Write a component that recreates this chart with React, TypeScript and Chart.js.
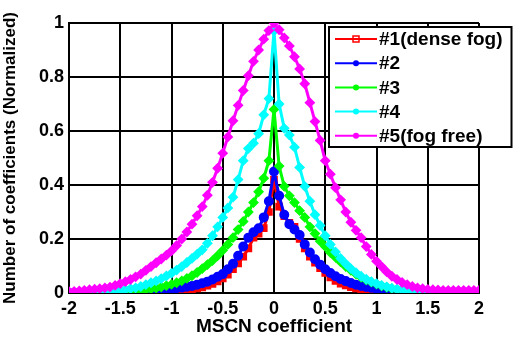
import React, { useEffect, useRef } from "react";
import { Chart, registerables } from "chart.js";
Chart.register(...registerables);

const xValues = [
  -2, -1.95, -1.9, -1.85, -1.8, -1.75, -1.7, -1.65, -1.6, -1.55,
  -1.5, -1.45, -1.4, -1.35, -1.3, -1.25, -1.2, -1.15, -1.1, -1.05,
  -1, -0.95, -0.9, -0.85, -0.8, -0.75, -0.7, -0.65, -0.6, -0.55,
  -0.5, -0.45, -0.4, -0.35, -0.3, -0.25, -0.2, -0.15, -0.1, -0.05,
  0,
  0.05, 0.1, 0.15, 0.2, 0.25, 0.3, 0.35, 0.4, 0.45, 0.5,
  0.55, 0.6, 0.65, 0.7, 0.75, 0.8, 0.85, 0.9, 0.95, 1,
  1.05, 1.1, 1.15, 1.2, 1.25, 1.3, 1.35, 1.4, 1.45, 1.5,
  1.55, 1.6, 1.65, 1.7, 1.75, 1.8, 1.85, 1.9, 1.95, 2,
];

// #1 (dense fog)
const series1 = [
  0, 0, 0, 0, 0, 0, 0, 0, 0.001, 0.001,
  0.001, 0.001, 0.001, 0.002, 0.002, 0.002, 0.003, 0.003, 0.004, 0.005,
  0.006, 0.007, 0.009, 0.011, 0.014, 0.017, 0.021, 0.027, 0.034, 0.043,
  0.054, 0.068, 0.088, 0.11, 0.135, 0.165, 0.205, 0.22, 0.24, 0.3,
  0.42,
  0.32, 0.285, 0.26, 0.245, 0.2, 0.165, 0.135, 0.112, 0.092, 0.074,
  0.058, 0.045, 0.035, 0.028, 0.022, 0.017, 0.013, 0.01, 0.008, 0.006,
  0.005, 0.004, 0.003, 0.002, 0.002, 0.001, 0.001, 0.001, 0.001, 0.001,
  0, 0, 0, 0, 0, 0, 0, 0, 0, 0,
];

// #2
const series2 = [
  0, 0, 0, 0, 0.001, 0.001, 0.001, 0.001, 0.002, 0.002,
  0.002, 0.003, 0.004, 0.005, 0.006, 0.007, 0.008, 0.01, 0.011, 0.013,
  0.015, 0.018, 0.02, 0.023, 0.026, 0.031, 0.036, 0.042, 0.05, 0.06,
  0.07, 0.088, 0.108, 0.138, 0.172, 0.205, 0.225, 0.24, 0.28, 0.34,
  0.45,
  0.36, 0.29, 0.255, 0.235, 0.215, 0.18, 0.15, 0.125, 0.105, 0.088,
  0.074, 0.062, 0.052, 0.044, 0.037, 0.031, 0.026, 0.022, 0.019, 0.016,
  0.013, 0.011, 0.009, 0.007, 0.006, 0.005, 0.004, 0.003, 0.003, 0.002,
  0.002, 0.002, 0.001, 0.001, 0.001, 0.001, 0.001, 0.001, 0.001, 0.001,
];

// #3
const series3 = [
  0, 0, 0.001, 0.001, 0.001, 0.001, 0.002, 0.002, 0.003, 0.003,
  0.004, 0.005, 0.006, 0.008, 0.01, 0.012, 0.015, 0.018, 0.022, 0.027,
  0.032, 0.038, 0.045, 0.054, 0.064, 0.076, 0.09, 0.105, 0.12, 0.138,
  0.158, 0.18, 0.205, 0.235, 0.265, 0.3, 0.335, 0.375, 0.425, 0.49,
  0.68,
  0.47, 0.395, 0.36, 0.335, 0.305, 0.28, 0.245, 0.22, 0.192, 0.172,
  0.15, 0.132, 0.115, 0.098, 0.084, 0.07, 0.058, 0.048, 0.04, 0.033,
  0.026, 0.021, 0.016, 0.012, 0.009, 0.007, 0.005, 0.004, 0.003, 0.003,
  0.002, 0.002, 0.002, 0.001, 0.001, 0.001, 0.001, 0.001, 0.001, 0.001,
];

// #4
const series4 = [
  0.001, 0.001, 0.002, 0.002, 0.003, 0.003, 0.004, 0.005, 0.006, 0.008,
  0.01, 0.013, 0.016, 0.019, 0.024, 0.031, 0.038, 0.045, 0.053, 0.063,
  0.073, 0.085, 0.098, 0.113, 0.128, 0.144, 0.16, 0.184, 0.212, 0.245,
  0.28, 0.315, 0.355, 0.42, 0.49, 0.535, 0.555, 0.59, 0.66, 0.72,
  0.97,
  0.7, 0.61, 0.585, 0.54, 0.465, 0.395, 0.34, 0.29, 0.25, 0.212,
  0.18, 0.152, 0.128, 0.108, 0.09, 0.075, 0.062, 0.051, 0.042, 0.035,
  0.028, 0.023, 0.018, 0.014, 0.011, 0.009, 0.007, 0.006, 0.005, 0.004,
  0.004, 0.003, 0.003, 0.003, 0.002, 0.002, 0.002, 0.002, 0.002, 0.002,
];

// #5 (fog free)
const series5 = [
  0.005, 0.006, 0.008, 0.01, 0.012, 0.014, 0.016, 0.019, 0.022, 0.028,
  0.035, 0.042, 0.05, 0.06, 0.07, 0.084, 0.098, 0.112, 0.126, 0.14,
  0.156, 0.176, 0.2, 0.226, 0.255, 0.286, 0.32, 0.362, 0.41, 0.462,
  0.518, 0.578, 0.638, 0.695, 0.75, 0.805, 0.858, 0.9, 0.94, 0.972,
  1.0,
  0.975, 0.945, 0.915, 0.875, 0.83, 0.775, 0.705, 0.635, 0.565, 0.49,
  0.44, 0.39, 0.345, 0.3, 0.262, 0.232, 0.205, 0.172, 0.143, 0.118,
  0.098, 0.078, 0.062, 0.05, 0.039, 0.031, 0.024, 0.019, 0.016, 0.013,
  0.012, 0.011, 0.01, 0.01, 0.01, 0.01, 0.01, 0.01, 0.01, 0.01,
];

const seriesLabels = ["#1(dense fog)", "#2", "#3", "#4", "#5(fog free)"];
const seriesColors = ["#ff0000", "#0000ff", "#00ff00", "#00ffff", "#ff00ff"];
const seriesMarkers = ["rect", "circle", "rectRot", "rectRot", "rectRot"];
const allSeries = [series1, series2, series3, series4, series5];

const xTickValues = [-2, -1.5, -1, -0.5, 0, 0.5, 1, 1.5, 2];
const yTickValues = [0, 0.2, 0.4, 0.6, 0.8, 1];

const xTitle = "MSCN coefficient";
const yTitle = "Number of coefficients (Normalized)";

const FONT = "'Liberation Sans', Arial, sans-serif";

const boxLegend = {
  id: "boxLegend",
  afterDraw(chart: any) {
    const { ctx, chartArea } = chart;
    const left = chartArea.right - 150;
    const top = chartArea.top + 4;
    const right = chart.width - 1.5;
    const height = 120;
    ctx.save();
    ctx.fillStyle = "#ffffff";
    ctx.fillRect(left, top, right - left, height);
    ctx.lineWidth = 2;
    ctx.strokeStyle = "#000000";
    ctx.strokeRect(left, top, right - left, height);
    ctx.font = `bold 19px ${FONT}`;
    ctx.textBaseline = "middle";
    ctx.textAlign = "left";
    seriesLabels.forEach((label, i) => {
      const y = top + 12 + i * 24.2;
      const c = seriesColors[i];
      ctx.strokeStyle = c;
      ctx.lineWidth = 2;
      ctx.beginPath();
      ctx.moveTo(left + 6, y);
      ctx.lineTo(left + 48, y);
      ctx.stroke();
      const mx = left + 27;
      if (i === 0) {
        ctx.lineWidth = 1.5;
        ctx.strokeRect(mx - 3, y - 3, 6, 6);
      } else {
        ctx.fillStyle = c;
        ctx.beginPath();
        ctx.arc(mx, y, 3, 0, Math.PI * 2);
        ctx.fill();
      }
      ctx.fillStyle = "#000000";
      ctx.fillText(label, left + 50, y + 1);
    });
    ctx.restore();
  },
};

export default function App() {
  const ref = useRef<HTMLCanvasElement | null>(null);
  useEffect(() => {
    document.body.style.margin = "0";
    const canvas = ref.current!;
    const datasets = allSeries.map((s, i) => ({
      label: seriesLabels[i],
      data: xValues.map((x, j) => ({ x, y: s[j] })),
      borderColor: seriesColors[i],
      backgroundColor: seriesColors[i],
      borderWidth: 3,
      pointStyle: seriesMarkers[i],
      pointRadius: 4,
      pointBorderWidth: 2,
      pointBackgroundColor: seriesColors[i],
      pointBorderColor: seriesColors[i],
      order: 5 - i,
      tension: 0,
    }));
    const fmt = (v: any) => String(Math.round(Number(v) * 10) / 10);
    const chart = new Chart(canvas, {
      type: "line",
      data: { datasets },
      plugins: [boxLegend],
      options: {
        animation: false,
        responsive: false,
        events: [],
        layout: { padding: { left: 0, top: 23, right: 34, bottom: 0 } },
        plugins: { legend: { display: false }, tooltip: { enabled: false } },
        scales: {
          x: {
            type: "linear",
            min: -2,
            max: 2,
            afterBuildTicks: (scale: any) => {
              scale.ticks = xTickValues.map((v) => ({ value: v }));
            },
            afterFit: (scale: any) => {
              scale.height = 50;
            },
            grid: { color: "#000", lineWidth: 2, drawTicks: false },
            border: { color: "#000", width: 2 },
            ticks: {
              color: "#000",
              padding: 5,
              maxRotation: 0,
              callback: (v: any) => fmt(v),
              font: { family: FONT, size: 18, weight: "bold" },
            },
            title: {
              display: true,
              text: xTitle,
              color: "#000",
              padding: { top: 0, bottom: 5 },
              font: { family: FONT, size: 19, weight: "bold" },
            },
          },
          y: {
            type: "linear",
            min: 0,
            max: 1,
            afterBuildTicks: (scale: any) => {
              scale.ticks = yTickValues.map((v) => ({ value: v }));
            },
            afterFit: (scale: any) => {
              scale.width = 69;
            },
            grid: { color: "#000", lineWidth: 2, drawTicks: false },
            border: { color: "#000", width: 2 },
            ticks: {
              color: "#000",
              padding: 5,
              callback: (v: any) => fmt(v),
              font: { family: FONT, size: 18, weight: "bold" },
            },
            title: {
              display: true,
              text: yTitle,
              color: "#000",
              padding: { top: 0, bottom: 1 },
              font: { family: FONT, size: 17, weight: "bold" },
            },
          },
        },
      },
    } as any);
    return () => chart.destroy();
  }, []);
  return (
    <div style={{ position: "absolute", left: 0, top: 0, width: 513, height: 343, background: "#fff" }}>
      <canvas ref={ref} width={513} height={343} style={{ display: "block" }} />
    </div>
  );
}
